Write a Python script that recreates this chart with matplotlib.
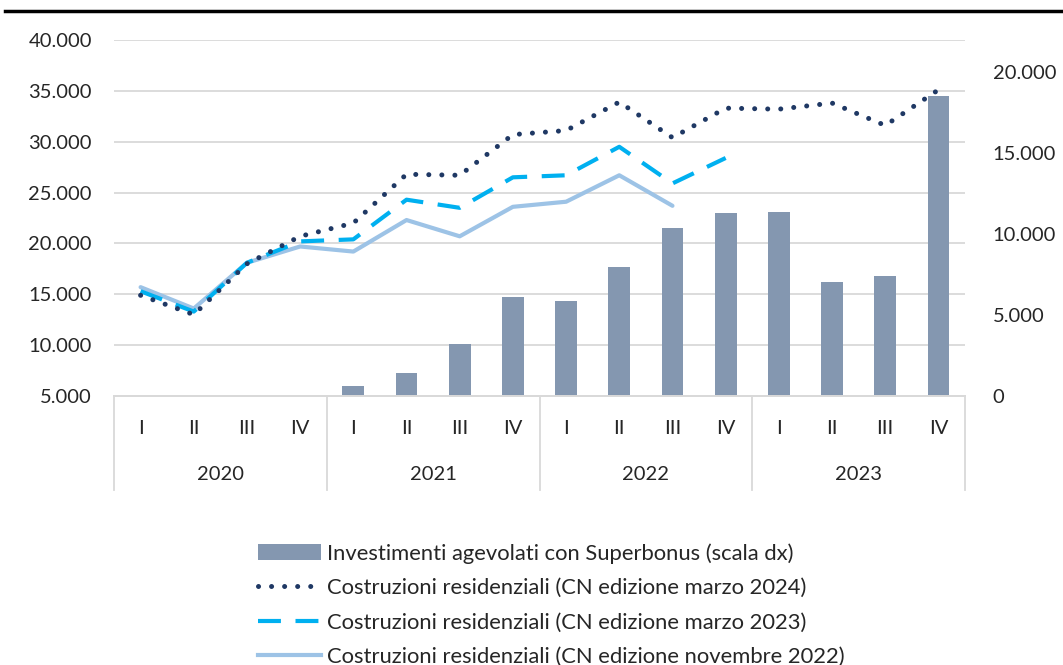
import matplotlib
matplotlib.use("Agg")
import matplotlib.pyplot as plt
from matplotlib.lines import Line2D
from matplotlib.patches import Patch
import numpy as np

plt.rcParams['font.family'] = ['Lato', 'DejaVu Sans']

quarters = ["I", "II", "III", "IV"] * 4
years = ["2020", "2021", "2022", "2023"]

superbonus = [np.nan, np.nan, np.nan, np.nan,
              600, 1400, 3200, 6100,
              5900, 7950, 10400, 11300,
              11400, 7050, 7400, 18550]
cn_mar2024 = [14900, 13000, 18000, 20700,
              22000, 26800, 26700, 30700,
              31100, 33900, 30400, 33300,
              33200, 33800, 31600, 35100]
cn_mar2023 = [15300, 13300, 18100, 20200,
              20400, 24300, 23500, 26500,
              26700, 29500, 25900, 28400,
              np.nan, np.nan, np.nan, np.nan]
cn_nov2022 = [15700, 13600, 18100, 19700,
              19200, 22300, 20700, 23600,
              24100, 26700, 23700, np.nan,
              np.nan, np.nan, np.nan, np.nan]

labels = ["Investimenti agevolati con Superbonus (scala dx)",
          "Costruzioni residenziali (CN edizione marzo 2024)",
          "Costruzioni residenziali (CN edizione marzo 2023)",
          "Costruzioni residenziali (CN edizione novembre 2022)"]

c_bar = "#8497B0"
c_dot = "#1F3864"
c_dash = "#00B0F0"
c_solid = "#9DC3E6"
c_grid = "#D9D9D9"
c_text = "#262626"
fs = 14.5

W, H = 1063, 665
fig = plt.figure(figsize=(W / 100, H / 100), dpi=100)
left, right, top, bottom = 114, 965, 40, 396
ax = fig.add_axes([left / W, 1 - bottom / H, (right - left) / W, (bottom - top) / H])
ax2 = ax.twinx()

x = np.arange(len(quarters))

# bars on right axis
ax2.bar(x, superbonus, width=0.41, color=c_bar, zorder=1)
ax2.set_ylim(0, 22000)
rt = [0, 5000, 10000, 15000, 20000]
ax2.set_yticks(rt)
ax2.set_yticklabels([f"{v:,}".replace(",", ".") for v in rt])

# lines on left axis, drawn above bars
ax.set_zorder(ax2.get_zorder() + 1)
ax.patch.set_visible(False)
ax.plot(x, cn_nov2022, color=c_solid, lw=3.0, solid_capstyle='round', zorder=3)
ax.plot(x, cn_mar2023, color=c_dash, lw=3.0, linestyle=(0, (5.5, 3.5)), zorder=4)
ax.plot(x, cn_mar2024, color=c_dot, lw=3.6, linestyle=(0, (0.01, 2.6)),
        dash_capstyle='round', zorder=5)
ax.set_ylim(5000, 40000)
yt = list(range(5000, 40001, 5000))
ax.set_yticks(yt)
ax.set_yticklabels([f"{v:,}".replace(",", ".") for v in yt])
ax.set_xlim(-0.5, len(x) - 0.5)

# horizontal grid (left-axis ticks) drawn beneath bars
for v in yt:
    frac = (v - 5000) / 35000
    ax2.axhline(frac * 22000, color=c_grid, lw=1.3, zorder=0)

for a in (ax, ax2):
    for s in ("left", "right", "top"):
        a.spines[s].set_visible(False)
    a.spines["bottom"].set_color(c_grid)
    a.spines["bottom"].set_linewidth(1.3)
    a.tick_params(axis="y", length=0, labelsize=fs, labelcolor=c_text)

ax.tick_params(axis="y", pad=16)
ax2.tick_params(axis="y", pad=20)

# x-axis: quarters and years
ax.set_xticks(x)
ax.set_xticklabels(quarters)
ax.tick_params(axis="x", length=0, pad=17, labelsize=fs, labelcolor=c_text)
ax2.tick_params(axis="x", bottom=False, labelbottom=False, top=False, labeltop=False)

trans = ax.get_xaxis_transform()
sep_bottom = -(490 - bottom) / (bottom - top)
for b in [-0.5, 3.5, 7.5, 11.5, 15.5]:
    ax.plot([b, b], [0, sep_bottom], transform=trans, color=c_grid, lw=1.3,
            clip_on=False)
year_y = -(474 - bottom) / (bottom - top)
for i, yr in enumerate(years):
    ax.text(4 * i + 1.5, year_y, yr, transform=trans, ha="center", va="center",
            fontsize=fs, color=c_text)

# top rule
fig.add_artist(Line2D([5 / W, 1], [1 - 11 / H, 1 - 11 / H], color="black", lw=2.5))

# legend
handles = [Patch(facecolor=c_bar, edgecolor="none"),
           Line2D([], [], color=c_dot, lw=3.6, linestyle=(0, (0.01, 2.6)), dash_capstyle='round'),
           Line2D([], [], color=c_dash, lw=3.0, linestyle=(0, (5.5, 3.5))),
           Line2D([], [], color=c_solid, lw=3.0)]
fig.legend(handles, labels, loc="upper left", bbox_to_anchor=(258 / W, 1 - 543 / H),
           frameon=False, fontsize=15.8, handlelength=2.85, handleheight=0.75,
           handletextpad=0.3, labelspacing=0.66, borderpad=0, borderaxespad=0,
           labelcolor=c_text)

fig.savefig("out.png", dpi=100)
